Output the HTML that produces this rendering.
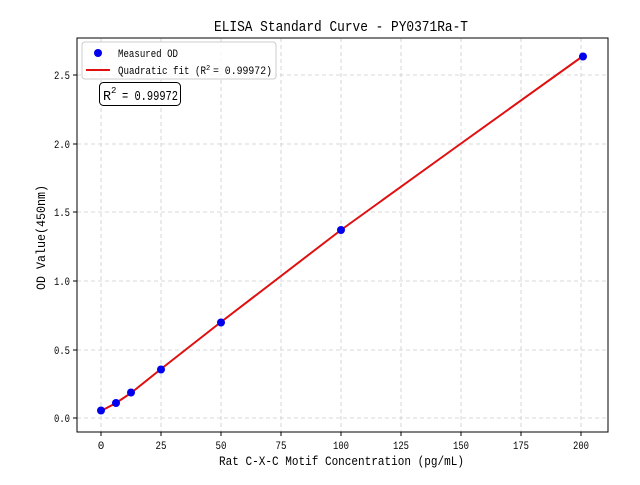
<!DOCTYPE html><html><head><style>body{margin:0;background:#fff}svg text{font-family:"Liberation Mono",monospace;fill:#000}</style></head><body>
<svg width="640" height="480" xmlns="http://www.w3.org/2000/svg">
<rect width="640" height="480" fill="#fff"/>
<g stroke="#ccc" stroke-dasharray="4,3" stroke-width="0.8">
<line x1="101" y1="38" x2="101" y2="432"/><line x1="161" y1="38" x2="161" y2="432"/><line x1="221" y1="38" x2="221" y2="432"/><line x1="281" y1="38" x2="281" y2="432"/><line x1="341" y1="38" x2="341" y2="432"/><line x1="401" y1="38" x2="401" y2="432"/><line x1="461" y1="38" x2="461" y2="432"/><line x1="521" y1="38" x2="521" y2="432"/><line x1="581" y1="38" x2="581" y2="432"/>
<line x1="77" y1="418" x2="608" y2="418"/><line x1="77" y1="350" x2="608" y2="350"/><line x1="77" y1="281" x2="608" y2="281"/><line x1="77" y1="212" x2="608" y2="212"/><line x1="77" y1="144" x2="608" y2="144"/><line x1="77" y1="75" x2="608" y2="75"/>
</g>
<polyline fill="none" stroke="#e01010" stroke-width="2" points="101,411 116,403 131,393 161,369 221,322 341,230 461,143.5 583,56"/>
<g fill="#0000ee"><circle cx="101" cy="410.5" r="4"/><circle cx="116" cy="403" r="4"/><circle cx="131" cy="392.5" r="4"/><circle cx="161" cy="369.5" r="4"/><circle cx="221" cy="322.5" r="4"/><circle cx="341" cy="230" r="4"/><circle cx="583" cy="56.5" r="4"/></g>
<rect x="77" y="38" width="531" height="394" fill="none" stroke="#000" stroke-width="1"/>
<g stroke="#000"><line x1="101" y1="432" x2="101" y2="436"/><line x1="161" y1="432" x2="161" y2="436"/><line x1="221" y1="432" x2="221" y2="436"/><line x1="281" y1="432" x2="281" y2="436"/><line x1="341" y1="432" x2="341" y2="436"/><line x1="401" y1="432" x2="401" y2="436"/><line x1="461" y1="432" x2="461" y2="436"/><line x1="521" y1="432" x2="521" y2="436"/><line x1="581" y1="432" x2="581" y2="436"/>
<line x1="73" y1="418" x2="77" y2="418"/><line x1="73" y1="350" x2="77" y2="350"/><line x1="73" y1="281" x2="77" y2="281"/><line x1="73" y1="212" x2="77" y2="212"/><line x1="73" y1="144" x2="77" y2="144"/><line x1="73" y1="75" x2="77" y2="75"/></g>
<g font-size="11" text-anchor="middle"><text x="101" y="449">0</text><text x="161" y="449" textLength="11" lengthAdjust="spacingAndGlyphs">25</text><text x="221" y="449" textLength="11" lengthAdjust="spacingAndGlyphs">50</text><text x="281" y="449" textLength="11" lengthAdjust="spacingAndGlyphs">75</text><text x="341" y="449" textLength="16" lengthAdjust="spacingAndGlyphs">100</text><text x="401" y="449" textLength="16" lengthAdjust="spacingAndGlyphs">125</text><text x="461" y="449" textLength="16" lengthAdjust="spacingAndGlyphs">150</text><text x="521" y="449" textLength="16" lengthAdjust="spacingAndGlyphs">175</text><text x="581" y="449" textLength="16" lengthAdjust="spacingAndGlyphs">200</text></g>
<g font-size="11" text-anchor="end"><text x="70" y="422" textLength="16" lengthAdjust="spacingAndGlyphs">0.0</text><text x="70" y="354" textLength="16" lengthAdjust="spacingAndGlyphs">0.5</text><text x="70" y="285" textLength="16" lengthAdjust="spacingAndGlyphs">1.0</text><text x="70" y="216" textLength="16" lengthAdjust="spacingAndGlyphs">1.5</text><text x="70" y="148" textLength="16" lengthAdjust="spacingAndGlyphs">2.0</text><text x="70" y="79" textLength="16" lengthAdjust="spacingAndGlyphs">2.5</text></g>
<text x="219" y="465" font-size="13" textLength="245" lengthAdjust="spacingAndGlyphs">Rat C-X-C Motif Concentration (pg/mL)</text>
<text transform="translate(45,290) rotate(-90)" font-size="13" textLength="105" lengthAdjust="spacingAndGlyphs">OD Value(450nm)</text>
<text x="214" y="31" font-size="15" textLength="254" lengthAdjust="spacingAndGlyphs">ELISA Standard Curve - PY0371Ra-T</text>
<rect x="82" y="42" width="194" height="37" rx="3" fill="#fff" fill-opacity="0.8" stroke="#ccc"/>
<circle cx="98" cy="53" r="4" fill="#0000ee"/>
<text x="118" y="57" font-size="11" textLength="60" lengthAdjust="spacingAndGlyphs">Measured OD</text>
<line x1="86" y1="70" x2="110" y2="70" stroke="#e01010" stroke-width="2"/>
<text x="118" y="74" font-size="11" textLength="88" lengthAdjust="spacingAndGlyphs">Quadratic fit (R</text>
<text x="206" y="70" font-size="7">2</text>
<text x="213" y="74" font-size="11" textLength="59" lengthAdjust="spacingAndGlyphs"> = 0.99972)</text>
<rect x="99.5" y="82.5" width="81" height="23" rx="4" fill="#fff" stroke="#000"/>
<text x="103" y="100" font-size="14" textLength="8" lengthAdjust="spacingAndGlyphs">R</text>
<text x="111" y="93" font-size="9">2</text>
<text x="122" y="100" font-size="14" textLength="56" lengthAdjust="spacingAndGlyphs">= 0.99972</text>
</svg></body></html>
